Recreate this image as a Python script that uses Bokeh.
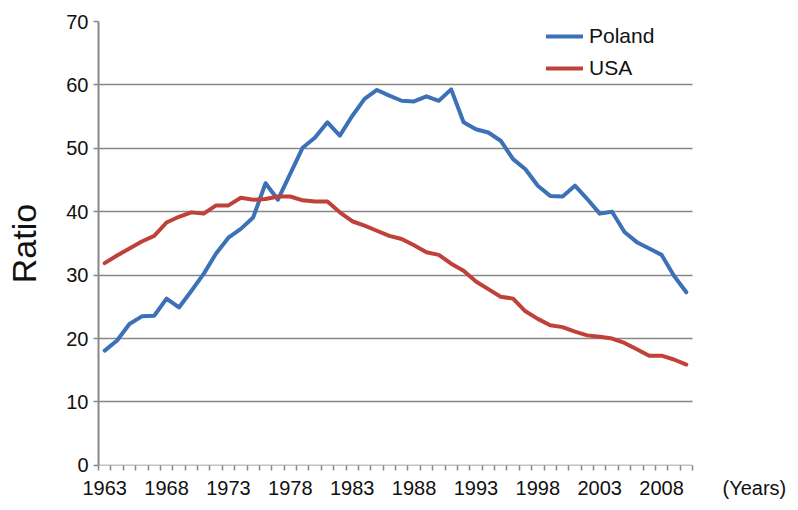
from bokeh.plotting import figure
from bokeh.models import Range1d, FixedTicker, Legend, LegendItem
from bokeh.embed import file_html
from bokeh.resources import INLINE

years = list(range(1963, 2011))
poland = [18.1, 19.7, 22.3, 23.5, 23.6, 26.3, 24.9, 27.5, 30.2, 33.4,
          35.9, 37.3, 39.1, 44.5, 41.9, 46.0, 50.1, 51.7, 54.1, 52.0,
          55.1, 57.8, 59.2, 58.3, 57.5, 57.4, 58.2, 57.5, 59.3, 54.1,
          53.0, 52.5, 51.2, 48.3, 46.7, 44.1, 42.5, 42.4, 44.1, 42.0,
          39.7, 40.0, 36.8, 35.2, 34.2, 33.2, 29.9, 27.3]
usa = [31.9, 33.1, 34.2, 35.3, 36.2, 38.3, 39.2, 39.9, 39.7, 41.0,
       41.0, 42.2, 41.9, 42.0, 42.4, 42.4, 41.8, 41.6, 41.6, 39.9,
       38.5, 37.8, 37.0, 36.2, 35.7, 34.7, 33.6, 33.2, 31.8, 30.7,
       29.0, 27.8, 26.6, 26.3, 24.3, 23.1, 22.1, 21.8, 21.1, 20.5,
       20.3, 20.0, 19.3, 18.3, 17.3, 17.3, 16.7, 15.9]
x_tick_years = [1963, 1968, 1973, 1978, 1983, 1988, 1993, 1998, 2003, 2008]
y_ticks = [0, 10, 20, 30, 40, 50, 60, 70]
x_unit_label = "(Years)"
y_axis_title = "Ratio"

GREY = "#878787"
BLUE = "#3C70B7"
RED = "#C0403A"
FONT = "Liberation Sans"

# layout: plotted years occupy 594 px starting 98 px from the left;
# the frame is stretched to the right edge so the unit label can sit there
W, H = 790, 502
LEFT, TOP, BOTTOM = 98, 21, 37
PLOT_W = 594
x0 = years[0] - 0.5
x1 = years[-1] + 0.5
px_per_year = PLOT_W / (x1 - x0)
x_end = x0 + (W - LEFT) / px_per_year
unit_pos = x1 + 5.0

p = figure(width=W, height=H, output_backend="svg", toolbar_location=None,
           x_range=Range1d(x0, x_end),
           y_range=Range1d(y_ticks[0] - 0.02, y_ticks[-1]))
p.min_border_left = LEFT
p.min_border_right = 0
p.min_border_top = TOP
p.min_border_bottom = BOTTOM
p.outline_line_color = None
p.background_fill_color = "white"

r_pl = p.line(years, poland, line_color=BLUE, line_width=4,
              line_join="round", line_cap="round")
r_us = p.line(years, usa, line_color=RED, line_width=4,
              line_join="round", line_cap="round")

# x axis (category style: small ticks between years)
xa = p.xaxis[0]
xa.ticker = FixedTicker(ticks=x_tick_years + [unit_pos],
                        minor_ticks=[y - 0.5 for y in years] + [x1])
xa.major_label_overrides = {unit_pos: x_unit_label}
xa.major_tick_out = 0
xa.major_tick_in = 0
xa.minor_tick_out = 5
xa.minor_tick_in = 0
xa.minor_tick_line_color = GREY
xa.minor_tick_line_width = 1.5
xa.axis_line_color = None
xa.major_label_standoff = 6
xa.major_label_text_font = FONT
xa.major_label_text_font_size = "20px"
xa.major_label_text_color = "#111111"

ya = p.yaxis[0]
ya.ticker = FixedTicker(ticks=y_ticks)
ya.major_tick_out = 5
ya.major_tick_in = 0
ya.minor_tick_out = 0
ya.minor_tick_in = 0
ya.major_tick_line_color = GREY
ya.major_tick_line_width = 1.5
ya.axis_line_color = GREY
ya.axis_line_width = 2
ya.major_label_standoff = 5
ya.major_label_text_font = FONT
ya.major_label_text_font_size = "20px"
ya.major_label_text_color = "#111111"
ya.axis_label = y_axis_title
ya.axis_label_standoff = 20
ya.axis_label_text_font = FONT
ya.axis_label_text_font_size = "34px"
ya.axis_label_text_font_style = "normal"
ya.axis_label_text_color = "#111111"

p.xgrid.grid_line_color = None
p.ygrid.ticker = FixedTicker(ticks=y_ticks)
p.ygrid.grid_line_color = GREY
p.ygrid.grid_line_width = 1.6
p.ygrid.cross_bounds = (x0, x1)

legend = Legend(items=[LegendItem(label="Poland", renderers=[r_pl]),
                       LegendItem(label="USA", renderers=[r_us])],
                location=(448, 381))
legend.border_line_color = None
legend.background_fill_alpha = 0
legend.padding = 0
legend.margin = 0
legend.spacing = 0
legend.glyph_width = 37
legend.glyph_height = 32
legend.label_height = 32
legend.label_standoff = 6
legend.label_text_font = FONT
legend.label_text_font_size = "21px"
legend.label_text_color = "#111111"
p.add_layout(legend, "center")

open("out.html", "w").write(file_html(p, INLINE))
